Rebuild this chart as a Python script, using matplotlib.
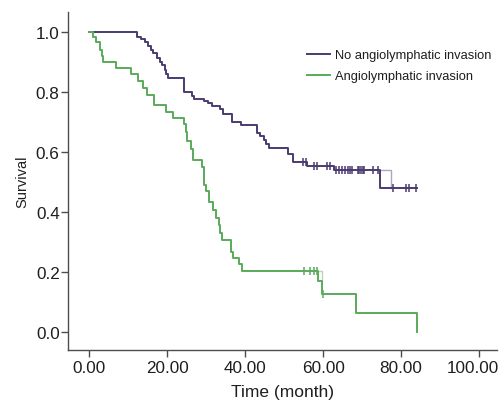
import numpy as np
import matplotlib
matplotlib.use("Agg")
import matplotlib.pyplot as plt
from matplotlib.transforms import ScaledTranslation

plt.rcParams['font.family'] = ['Liberation Sans', 'DejaVu Sans']

# ---- data ----
no_inv_times = [0, 12.2, 13.2, 14.2, 15.1, 15.7, 16.4, 17.4, 18.1, 18.5, 19.4, 19.6, 20.2,
                24.2, 26.2, 26.9, 29.4, 30.3, 31.5, 33.5, 34.2, 36.5, 39.0, 42.9, 43.9,
                44.7, 45.4, 46.1, 51.0, 52.3, 55.9, 62.7, 74.5, 84.0]
no_inv_surv = [1.0, 0.983, 0.975, 0.965, 0.953, 0.94, 0.93, 0.914, 0.90, 0.888, 0.874, 0.86, 0.846,
               0.80, 0.785, 0.777, 0.769, 0.761, 0.752, 0.742, 0.725, 0.70, 0.69, 0.664, 0.653,
               0.639, 0.626, 0.612, 0.593, 0.565, 0.554, 0.538, 0.478, 0.478]
no_inv_censor = [54.8, 55.5, 57.6, 58.3, 61.0, 61.7, 63.2, 64.0, 64.9, 65.5, 66.3, 66.8, 67.4,
                 68.9, 69.3, 69.7, 70.2, 70.6, 72.8, 74.0, 77.9, 81.3, 82.0, 83.7]
no_inv_ghost_t = [74.5, 77.5]
no_inv_ghost_s = [0.538, 0.478]

inv_times = [0, 1.0, 1.8, 2.7, 3.1, 3.5, 6.7, 10.6, 12.5, 13.8, 14.7, 16.6, 19.6, 21.5,
             24.2, 24.7, 25.1, 26.0, 26.5, 29.0, 29.4, 30.0, 30.6, 31.7, 32.6, 33.2, 33.6,
             34.0, 36.4, 36.8, 38.3, 39.2, 58.7, 59.8, 68.3, 84.2]
inv_surv = [1.0, 0.983, 0.964, 0.94, 0.92, 0.90, 0.879, 0.86, 0.835, 0.813, 0.79, 0.755, 0.733, 0.714,
            0.693, 0.665, 0.635, 0.61, 0.571, 0.549, 0.49, 0.47, 0.433, 0.406, 0.38, 0.355, 0.33,
            0.307, 0.266, 0.245, 0.225, 0.202, 0.169, 0.125, 0.062, 0.0]
inv_censor = [55.1, 56.5, 57.6, 58.4, 60.0]
inv_ghost_t = [58.7, 59.6]
inv_ghost_s = [0.202, 0.169]

labels = ["No angiolymphatic invasion", "Angiolymphatic invasion"]
xticks = [0, 20, 40, 60, 80, 100]
yticks = [0.0, 0.2, 0.4, 0.6, 0.8, 1.0]

c_purple = "#4a3b70"
c_green = "#5aab5a"

fig = plt.figure(figsize=(5.04, 4.02), dpi=100)
ax = fig.add_axes([0.135, 0.127, 0.851, 0.841])


def surv_at(times, surv, t):
    idx = np.searchsorted(times, t, side='right') - 1
    return np.asarray(surv)[idx]


for times, surv, cens, gt, gs, col, lab in [
        (no_inv_times, no_inv_surv, no_inv_censor, no_inv_ghost_t, no_inv_ghost_s, c_purple, labels[0]),
        (inv_times, inv_surv, inv_censor, inv_ghost_t, inv_ghost_s, c_green, labels[1])]:
    ax.step(gt, gs, where='post', color=col, lw=1.0, alpha=0.45)
    ax.step(times, surv, where='post', color=col, lw=1.4, label=lab)
    ax.plot(cens, surv_at(times, surv, cens), linestyle='none', marker='|',
            markersize=5.5, markeredgewidth=1.1, color=col)

ax.set_xlim(-5.5, 104.6)
ax.set_ylim(-0.06, 1.066)
ax.set_xticks(xticks)
ax.set_xticklabels([f"{v:.2f}" for v in xticks])
ax.set_yticks(yticks)
ax.set_yticklabels([f"{v:.1f}" for v in yticks])

for s in ['top', 'right']:
    ax.spines[s].set_visible(False)
for s in ['left', 'bottom']:
    ax.spines[s].set_color('#4d4d4d')
    ax.spines[s].set_linewidth(1.0)
ax.tick_params(axis='both', direction='out', length=5, width=1.0, color='#4d4d4d',
               labelsize=12.3, labelcolor='#1e1e1e')
ax.tick_params(axis='x', pad=2.5)
ax.tick_params(axis='y', pad=1)

# keep the last x tick label inside the image
last = ax.get_xticklabels()[-1]
last.set_transform(last.get_transform() + ScaledTranslation(-6 / 100, 0, fig.dpi_scale_trans))

ax.set_xlabel("Time (month)", fontsize=12.5, color='#1e1e1e', labelpad=6)
ax.set_ylabel("Survival", fontsize=10.5, color='#1e1e1e', labelpad=5)

leg = ax.legend(loc='upper left', bbox_to_anchor=(0.557, 0.89), frameon=False,
                fontsize=9.3, handlelength=1.8, handletextpad=0.4, labelspacing=0.7,
                borderpad=0, borderaxespad=0)
for t in leg.get_texts():
    t.set_color('#1e1e1e')

fig.savefig("out.png", dpi=100)
